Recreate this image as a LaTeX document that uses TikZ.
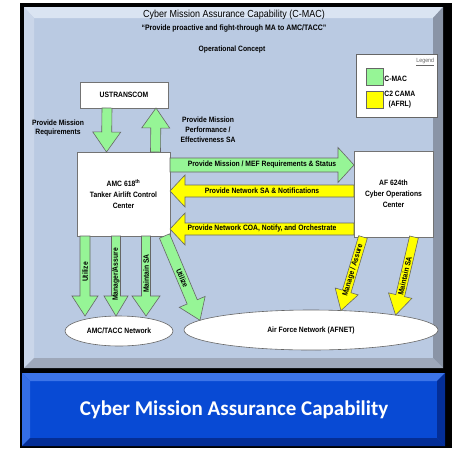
\documentclass[tikz,border=0pt]{standalone}
\usepackage{fontspec}
\setmainfont{Liberation Sans}
\newfontfamily\narrowfont{Liberation Sans}[FakeStretch=0.88]
\newfontfamily\barfont{Carlito}
\usetikzlibrary{calc,shapes.geometric}
\definecolor{panelblue}{RGB}{186,202,226}
\definecolor{bevlight}{RGB}{218,228,242}
\definecolor{bevside}{RGB}{202,214,233}
\definecolor{bevdark}{RGB}{138,148,166}
\definecolor{bevbottom}{RGB}{158,168,186}
\definecolor{cmacgreen}{RGB}{150,245,150}
\definecolor{camayellow}{RGB}{255,255,0}
\definecolor{barblue}{RGB}{8,74,212}
\definecolor{barlight}{RGB}{60,116,232}
\definecolor{bardark}{RGB}{4,46,150}
\tikzset{
  arrw/.store in=\arrw, arrh/.store in=\arrh, arrl/.store in=\arrl,
  arrw=5pt, arrh=14pt, arrl=20pt,
  blockarrow/.style={draw=black!60, line width=0.6pt, line join=miter,
    to path={($(\tikztostart)!\arrw!90:(\tikztotarget)$)
      -- ($($(\tikztotarget)!\arrl!(\tikztostart)$)!\arrw!90:(\tikztotarget)$)
      -- ($($(\tikztotarget)!\arrl!(\tikztostart)$)!\arrh!90:(\tikztotarget)$)
      -- (\tikztotarget)
      -- ($($(\tikztotarget)!\arrl!(\tikztostart)$)!\arrh!-90:(\tikztotarget)$)
      -- ($($(\tikztotarget)!\arrl!(\tikztostart)$)!\arrw!-90:(\tikztotarget)$)
      -- ($(\tikztostart)!\arrw!-90:(\tikztotarget)$) -- cycle}},
  greenarrow/.style={blockarrow, fill=cmacgreen},
  yellowarrow/.style={blockarrow, fill=camayellow},
  orgbox/.style={draw=black!55, fill=white, line width=0.6pt, inner sep=0pt, outer sep=0pt,
    align=center, font=\narrowfont\bfseries\fontsize{7.7}{10.8}\selectfont},
  netnode/.style={ellipse, draw=black!60, fill=white, line width=0.6pt, inner sep=0pt,
    outer sep=0pt, font=\narrowfont\bfseries\fontsize{7.7}{9}\selectfont},
  lbl/.style={inner sep=0pt, align=center, font=\narrowfont\bfseries\fontsize{7.7}{9.8}\selectfont},
}
\begin{document}
\begin{tikzpicture}[x=1pt, y=-1pt]
  \useasboundingbox (0,0) rectangle (452,448);
  \fill[black] (20,3) rectangle (452,448);
  \fill[panelblue] (24,7) rectangle (443,368);
  \fill[bevlight] (24,7) -- (443,7) -- (433,18) -- (34,18) -- cycle;
  \fill[bevside] (24,7) -- (34,18) -- (34,358) -- (24,368) -- cycle;
  \fill[bevdark] (443,7) -- (443,368) -- (433,358) -- (433,18) -- cycle;
  \fill[bevbottom] (24,368) -- (34,358) -- (433,358) -- (443,368) -- cycle;
  \fill[barblue] (22,373) rectangle (445,446);
  \fill[barlight] (22,373) -- (445,373) -- (437,381) -- (30,381) -- cycle;
  \fill[barlight!85!barblue] (22,373) -- (30,381) -- (30,438) -- (22,446) -- cycle;
  \fill[bardark] (445,373) -- (445,446) -- (437,438) -- (437,381) -- cycle;
  \fill[bardark] (22,446) -- (30,438) -- (437,438) -- (445,446) -- cycle;

  \node[font=\narrowfont\fontsize{10.2}{11}\selectfont] (title) at (234,15) {Cyber Mission Assurance Capability (C-MAC)};
  \node[lbl, font=\narrowfont\bfseries\fontsize{7.9}{9}\selectfont] (motto) at (234,28) {“Provide proactive and fight-through MA to AMC/TACC”};
  \node[lbl] (opcon) at (232,50) {Operational Concept};

  \node[draw=black!60, fill=white, line width=0.6pt, minimum width=81pt, minimum height=63pt] (legend) at (396.5,85.5) {};
  \node[font=\narrowfont\fontsize{6}{7}\selectfont, text=black!60, anchor=north east, inner sep=1pt] (legtitle) at ([xshift=-2pt,yshift=-3pt]legend.north east) {\underline{Legend}};
  \node[draw=black!60, fill=cmacgreen, minimum size=17pt, inner sep=0pt] (keygreen) at (374.5,76.5) {};
  \node[draw=black!60, fill=camayellow, minimum size=17pt, inner sep=0pt] (keyyellow) at (374.5,99.5) {};
  \node[lbl, anchor=west] (keycmac) at ([xshift=1pt,yshift=-2pt]keygreen.east) {C-MAC};
  \node[lbl, anchor=north west] (keycama) at ([xshift=1pt]keyyellow.north east) {C2 CAMA\\(AFRL)};

  \node[orgbox, minimum width=88pt, minimum height=26pt] (ust) at (124,95) {USTRANSCOM};
  \node[orgbox, minimum width=93pt, minimum height=84pt] (amc) at (123.5,194) {AMC 618\textsuperscript{th}\\Tanker Airlift Control\\Center};
  \node[orgbox, minimum width=79pt, minimum height=86pt] (af) at (393.5,194) {AF 624th\\Cyber Operations\\Center};
  \node[netnode, minimum width=108pt, minimum height=30pt] (tacc) at (119,331) {AMC/TACC Network};
  \node[netnode, minimum width=254pt, minimum height=40pt] (afnet) at (311,330) {Air Force Network (AFNET)};

  \node[lbl] (reqlbl) at (58,128) {Provide Mission\\Requirements};
  \node[lbl] (perflbl) at (208,130) {Provide Mission\\Performance /\\Effectiveness SA};
  \draw[greenarrow] ([xshift=-17pt]ust.south) to ([xshift=-17pt]amc.north);
  \draw[greenarrow] ([xshift=32pt]amc.north) to ([xshift=32pt]ust.south);

  \draw[greenarrow, arrw=7pt, arrh=17.5pt, arrl=16pt] ([yshift=29pt]amc.east) to ([yshift=29pt]af.west);
  \path ([yshift=29pt]amc.east) -- ([yshift=29pt]af.west) node[lbl, pos=.5] {Provide Mission / MEF Requirements \& Status};
  \draw[yellowarrow, arrw=6pt, arrh=16pt, arrl=15pt] ([yshift=3pt]af.west) to ([yshift=3pt]amc.east);
  \path ([yshift=3pt]af.west) -- ([yshift=3pt]amc.east) node[lbl, pos=.5] {Provide Network SA \& Notifications};
  \draw[yellowarrow, arrw=6pt, arrh=16pt, arrl=15pt] ([yshift=-35pt]af.west) to ([yshift=-35pt]amc.east);
  \path ([yshift=-35pt]af.west) -- ([yshift=-35pt]amc.east) node[lbl, pos=.5] {Provide Network COA, Notify, and Orchestrate};

  \coordinate (use1) at ([xshift=-38.5pt]amc.south);
  \coordinate (mng1) at ([xshift=-7.5pt]amc.south);
  \coordinate (sa1) at ([xshift=22.5pt]amc.south);
  \coordinate (use2) at ([xshift=41pt]amc.south);
  \coordinate (mng2) at ([xshift=-30.5pt]af.south);
  \coordinate (sa2) at ([xshift=20.5pt]af.south);
  \draw[greenarrow, arrw=5pt, arrh=13pt] (use1) to (use1 |- tacc.north);
  \path (use1) -- (use1 |- tacc.north) node[lbl, pos=.45, rotate=90] {Utilize};
  \draw[greenarrow, arrw=4.5pt, arrh=12pt] (mng1) to (mng1 |- tacc.north);
  \path (mng1) -- (mng1 |- tacc.north) node[lbl, pos=.48, rotate=90] {Manager/Assure};
  \draw[greenarrow, arrw=4.5pt, arrh=14pt] (sa1) to (sa1 |- tacc.north);
  \path (sa1) -- (sa1 |- tacc.north) node[lbl, pos=.47, rotate=90] {Maintain SA};
  \draw[greenarrow, arrw=5.5pt, arrh=14pt] (use2) to (afnet.175);
  \path (use2) -- (afnet.175) node[lbl, pos=.5, sloped] {Utilize};
  \draw[yellowarrow, arrw=4.5pt, arrh=12pt] (mng2) to (afnet.33);
  \path (mng2) -- (afnet.33) node[lbl, pos=.45, sloped] {Manage / Assure};
  \draw[yellowarrow, arrw=4.5pt, arrh=12pt] (sa2) to (afnet.10);
  \path (sa2) -- (afnet.10) node[lbl, pos=.5, sloped] {Maintain SA};

  \node[text=white, font=\barfont\bfseries\fontsize{21}{24}\selectfont] (banner) at (234,410) {Cyber Mission Assurance Capability};
\end{tikzpicture}
\end{document}
